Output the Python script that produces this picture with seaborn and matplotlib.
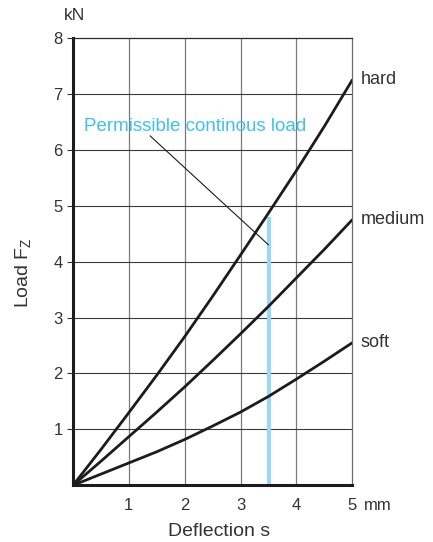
import numpy as np
import pandas as pd
import seaborn as sns
import matplotlib.pyplot as plt

# deflection s (mm) and load Fz (kN)
deflection = [0, 0.5, 1, 1.5, 2, 2.5, 3, 3.5, 4, 4.5, 5]
load_hard = [0, 0.64, 1.30, 1.97, 2.66, 3.38, 4.12, 4.87, 5.63, 6.42, 7.25]
load_medium = [0, 0.43, 0.87, 1.31, 1.76, 2.23, 2.71, 3.20, 3.71, 4.22, 4.75]
load_soft = [0, 0.20, 0.40, 0.60, 0.82, 1.06, 1.31, 1.59, 1.90, 2.22, 2.55]
grades = ['hard', 'medium', 'soft']
permissible_s = 3.5

x_ticks = [1, 2, 3, 4, 5]
x_ticklabels = ['1', '2', '3', '4', '5']
y_ticks = [1, 2, 3, 4, 5, 6, 7, 8]

df = pd.DataFrame({
    's': deflection * 3,
    'load': load_hard + load_medium + load_soft,
    'grade': [g for g in grades for _ in deflection],
})

sns.set_theme(style='white')
plt.rcParams['font.family'] = ['Liberation Sans', 'DejaVu Sans']
plt.rcParams['mathtext.fontset'] = 'custom'
plt.rcParams['mathtext.rm'] = 'Liberation Sans'
txt = '#333333'

fig = plt.figure(figsize=(4.33, 5.42), dpi=100)
ax = fig.add_axes([0.1686, 0.1046, 0.645, 0.8253])

# grid
for v in x_ticks[:-1]:
    ax.axvline(v, color='#7a7a7a', lw=0.9, zorder=1)
for v in y_ticks[:-1]:
    ax.axhline(v, color='#3a3a3a', lw=0.8, zorder=1)

# permissible load marker
top = load_hard[deflection.index(permissible_s)] - 0.07
ax.plot([permissible_s, permissible_s], [0, top], color='#9ad8f5', lw=3,
        solid_capstyle='butt', zorder=2)

sns.lineplot(data=df, x='s', y='load', hue='grade', palette=['#1c1c1c'] * 3,
             legend=False, lw=2.0, ax=ax, zorder=3)

ends = {'hard': load_hard[-1], 'medium': load_medium[-1], 'soft': load_soft[-1]}
for g in grades:
    ax.annotate(g, xy=(deflection[-1], ends[g]), xytext=(6, 0),
                textcoords='offset points', va='center', ha='left',
                fontsize=13, color=txt, annotation_clip=False)

ax.plot([1.38, 3.5], [6.25, 4.30], color='#1c1c1c', lw=0.8, zorder=3)
ax.text(0.197, 6.34, 'Permissible continous load', color='#3ec1f0',
        fontsize=13.5, va='baseline', ha='left', zorder=4)

ax.set_xlim(0, 5)
ax.set_ylim(0, 8)
ax.set_xticks(x_ticks)
ax.set_xticklabels(x_ticklabels)
ax.set_yticks(y_ticks)
ax.set_xlabel('')
ax.set_ylabel('')
ax.tick_params(axis='x', length=0, pad=9, labelsize=12, labelcolor=txt)
ax.tick_params(axis='y', left=True, length=4.3, width=0.8, color='#333333',
               pad=3, labelsize=12, labelcolor=txt)

ax.annotate('mm', xy=(5, 0), xytext=(8.5, -9), textcoords='offset points',
            ha='left', va='top', fontsize=12, color=txt, annotation_clip=False)

ax.spines['left'].set_linewidth(2.2)
ax.spines['left'].set_color('#1c1c1c')
ax.spines['bottom'].set_linewidth(2.2)
ax.spines['bottom'].set_color('#1c1c1c')
ax.spines['top'].set_linewidth(0.9)
ax.spines['top'].set_color('#2a2a2a')
ax.spines['right'].set_linewidth(0.9)
ax.spines['right'].set_color('#6a6a6a')

fig.text(64 / 433, 1 - 20 / 542, 'kN', fontsize=12.5, color=txt,
         ha='left', va='baseline')
fig.text(24 / 433, 1 - 273 / 542, r'Load F$_\mathregular{Z}$', fontsize=14,
         color=txt, rotation=90, ha='center', va='center')
fig.text(219 / 433, 1 - 536 / 542, 'Deflection s', fontsize=14, color=txt,
         ha='center', va='baseline')

fig.savefig('out.png', dpi=100)
